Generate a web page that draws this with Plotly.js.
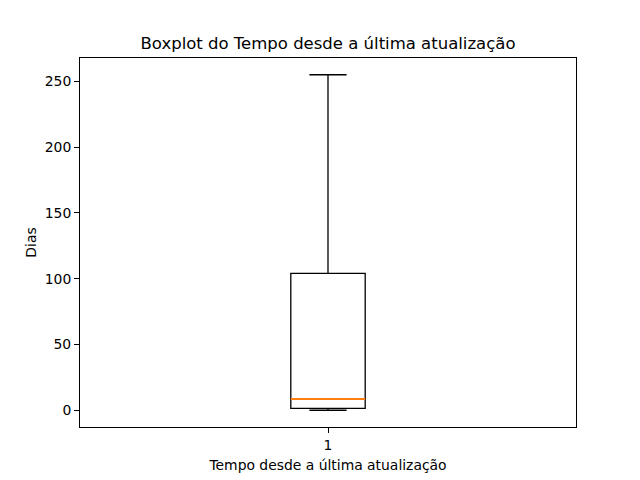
<!DOCTYPE html>
<html><head><meta charset="utf-8">
<script src="https://cdn.plot.ly/plotly-3.0.1.min.js"></script>
<style>body{margin:0;padding:0;background:#fff}#chart{width:640px;height:480px}</style>
</head><body><div id="chart"></div>
<script>
var categories = [1];
var q1 = [1.4];
var median = [8.5];
var q3 = [104];
var lowerfence = [0];
var upperfence = [255];
var boxWidth = 0.15;

var traces = [{
  type: 'box',
  x: categories,
  q1: q1, median: median, q3: q3,
  lowerfence: lowerfence, upperfence: upperfence,
  width: boxWidth,
  whiskerwidth: 0.5,
  line: {color: 'black', width: 1.3},
  fillcolor: 'rgba(0,0,0,0)',
  hoverinfo: 'none',
  showlegend: false
}, {
  type: 'scatter', mode: 'lines',
  x: [categories[0] - boxWidth/2, categories[0] + boxWidth/2],
  y: [median[0], median[0]],
  line: {color: '#ff7f0e', width: 2},
  hoverinfo: 'none', showlegend: false
}];

var font = {family: 'DejaVu Sans', size: 13.9, color: 'black'};
var layout = {
  width: 640, height: 480,
  margin: {l: 80, r: 64, t: 58, b: 53},
  paper_bgcolor: 'white', plot_bgcolor: 'white',
  font: font,
  title: {text: 'Boxplot do Tempo desde a última atualização', font: {family: 'DejaVu Sans', size: 16.5, color: 'black'}, xref: 'paper', x: 0.5, xanchor: 'center', y: 1 - 43/480, yanchor: 'middle'},
  xaxis: {
    type: 'linear', range: [0.5, 1.5], tickvals: categories, ticktext: ['1'],
    showline: true, mirror: true, linecolor: 'black', linewidth: 1,
    ticks: 'outside', ticklen: 5, tickcolor: 'black', showgrid: false, zeroline: false,
    title: {text: 'Tempo desde a última atualização', font: font, standoff: 8}
  },
  yaxis: {
    range: [-12.75, 267.75], tickvals: [0, 50, 100, 150, 200, 250],
    showline: true, mirror: true, linecolor: 'black', linewidth: 1,
    ticks: 'outside', ticklen: 5, tickcolor: 'black', showgrid: false, zeroline: false,
    title: {text: 'Dias', font: font, standoff: 4}
  }
};
Plotly.newPlot('chart', traces, layout, {displayModeBar: false, staticPlot: true});
</script></body></html>
